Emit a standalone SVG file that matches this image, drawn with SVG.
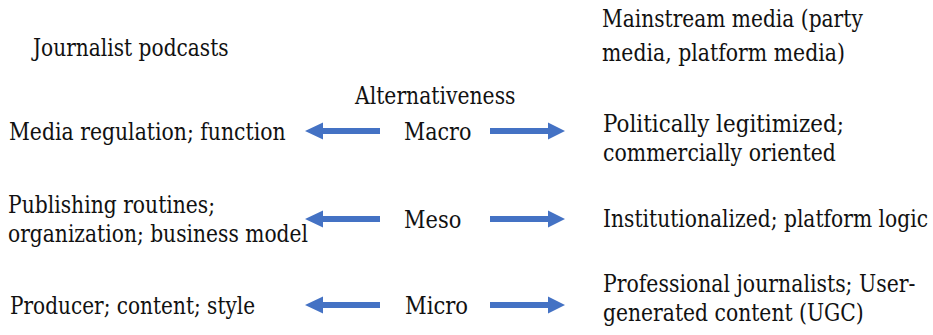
<svg xmlns="http://www.w3.org/2000/svg" width="933" height="335" viewBox="0 0 933 335">
<style>
.t text{font-family:'DejaVu Serif','Liberation Serif','Times New Roman',serif;font-size:23.5px;fill:#111}
.arr{fill:#4472C4}
</style>
<defs>
<path id="ra" class="arr" d="M0,-3 H58 V-8.5 L75,0 L58,8.5 V3 H0 Z"/>
<path id="la" class="arr" d="M0,-3 H-57 V-8.5 L-75,0 L-57,8.5 V3 H0 Z"/>
</defs>
<rect width="933" height="335" fill="#fff"/>
<g class="t">
<g id="journalist-podcasts"><text transform="translate(33,56) scale(0.863,1)" textLength="226.7" lengthAdjust="spacingAndGlyphs">Journalist podcasts</text></g>
<g id="mainstream-media"><text transform="translate(602,27) scale(0.863,1)" textLength="302.2" lengthAdjust="spacingAndGlyphs">Mainstream media (party</text><text transform="translate(602,61) scale(0.863,1)" textLength="281.5" lengthAdjust="spacingAndGlyphs">media, platform media)</text></g>
<g id="alternativeness"><text transform="translate(355,104) scale(0.863,1)" textLength="186" lengthAdjust="spacingAndGlyphs">Alternativeness</text></g>
<g id="macro"><text transform="translate(404,140) scale(0.863,1)" textLength="78" lengthAdjust="spacingAndGlyphs">Macro</text></g>
<g id="meso"><text transform="translate(404,228) scale(0.863,1)" textLength="66.4" lengthAdjust="spacingAndGlyphs">Meso</text></g>
<g id="micro"><text transform="translate(405,314) scale(0.863,1)" textLength="73.1" lengthAdjust="spacingAndGlyphs">Micro</text></g>
<g id="macro-left"><text transform="translate(9,140) scale(0.863,1)" textLength="320.5" lengthAdjust="spacingAndGlyphs">Media regulation; function</text></g>
<g id="meso-left"><text transform="translate(8,213) scale(0.863,1)" textLength="240" lengthAdjust="spacingAndGlyphs">Publishing routines;</text><text transform="translate(8,242) scale(0.863,1)" textLength="347.6" lengthAdjust="spacingAndGlyphs">organization; business model</text></g>
<g id="micro-left"><text transform="translate(10,314) scale(0.863,1)" textLength="284" lengthAdjust="spacingAndGlyphs">Producer; content; style</text></g>
<g id="macro-right"><text transform="translate(603,132) scale(0.863,1)" textLength="279.1" lengthAdjust="spacingAndGlyphs">Politically legitimized;</text><text transform="translate(603,161) scale(0.863,1)" textLength="269.9" lengthAdjust="spacingAndGlyphs">commercially oriented</text></g>
<g id="meso-right"><text transform="translate(603,227) scale(0.863,1)" textLength="376.6" lengthAdjust="spacingAndGlyphs">Institutionalized; platform logic</text></g>
<g id="micro-right"><text transform="translate(603,292) scale(0.863,1)" textLength="362" lengthAdjust="spacingAndGlyphs">Professional journalists; User-</text><text transform="translate(603,321) scale(0.863,1)" textLength="302.2" lengthAdjust="spacingAndGlyphs">generated content (UGC)</text></g>
</g>
<g id="connectors">
<use href="#la" x="380" y="131"/>
<use href="#ra" x="490" y="131"/>
<use href="#la" x="380" y="219"/>
<use href="#ra" x="490" y="219"/>
<use href="#la" x="380" y="305"/>
<use href="#ra" x="490" y="305"/>
</g>
</svg>
